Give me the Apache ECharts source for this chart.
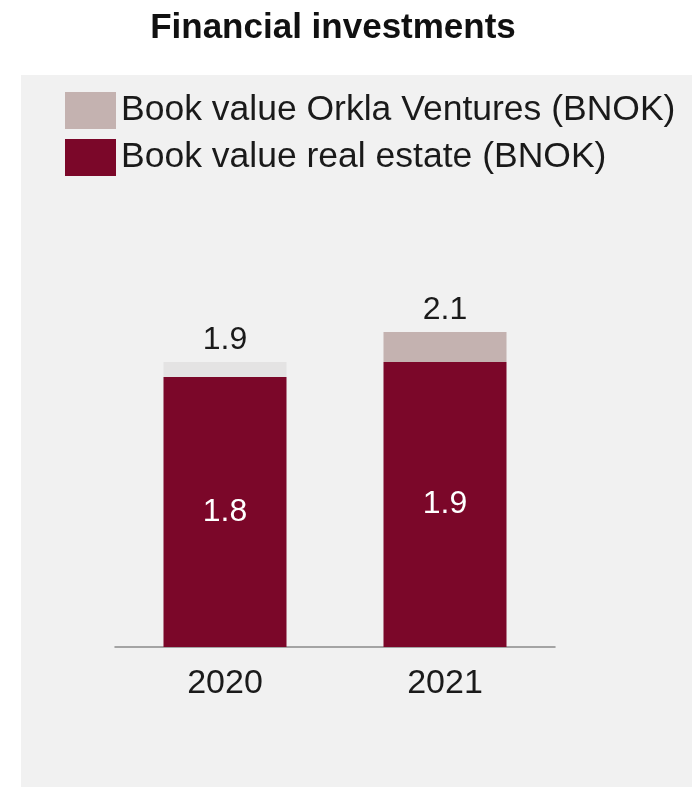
<!DOCTYPE html>
<html>
<head>
<meta charset="utf-8">
<style>
  html, body { margin: 0; padding: 0; background: #ffffff; }
  #chart { width: 692px; height: 787px; }
</style>
<script src="https://cdn.jsdelivr.net/npm/echarts@6/dist/echarts.min.js"></script>
</head>
<body>
<div id="chart"></div>
<script>
// data
const years = ['2020', '2021'];
const realEstate = [1.8, 1.9];
const ventures = [0.1, 0.2];
const totals = [1.9, 2.1];

const seriesNames = ['Book value Orkla Ventures (BNOK)', 'Book value real estate (BNOK)'];
const colRealEstate = '#7b0729';
const colVentures = '#c4b2b0';
const colVenturesFaint = '#e4e3e3';
const font = 'Liberation Sans, Arial, sans-serif';

const chart = echarts.init(document.getElementById('chart'));

const option = {
  animation: false,
  backgroundColor: '#ffffff',
  // grey panel behind the chart
  graphic: [{
    type: 'rect',
    left: 21,
    top: 75,
    z: -10,
    shape: { width: 671, height: 712 },
    style: { fill: '#f1f1f1' }
  }],
  title: {
    text: 'Financial investments',
    left: 328,
    textAlign: 'center',
    top: 6,
    textStyle: { fontFamily: font, fontSize: 35, fontWeight: 'bold', color: '#111' }
  },
  legend: {
    data: seriesNames,
    orient: 'vertical',
    left: 65,
    top: 92,
    padding: 0,
    itemWidth: 51,
    itemHeight: 37,
    itemGap: 10,
    icon: 'rect',
    textStyle: { fontFamily: font, fontSize: 35.5, color: '#1a1a1a' }
  },
  grid: { left: 115, right: 137, top: 197, bottom: 140 },
  xAxis: {
    type: 'category',
    data: years,
    axisTick: { show: false },
    axisLine: { lineStyle: { color: '#8a8a8a', width: 1.5 } },
    axisLabel: { fontFamily: font, fontSize: 34, color: '#1a1a1a', margin: 20 }
  },
  yAxis: {
    type: 'value',
    min: 0,
    max: 3,
    show: false,
    splitLine: { show: false }
  },
  series: [
    {
      name: seriesNames[1],
      type: 'bar',
      stack: 'fin',
      barWidth: 123,
      data: realEstate,
      itemStyle: { color: colRealEstate },
      label: {
        show: true,
        position: 'inside',
        fontFamily: font,
        fontSize: 32,
        color: '#ffffff'
      }
    },
    {
      name: seriesNames[0],
      type: 'bar',
      stack: 'fin',
      barWidth: 123,
      data: ventures.map((v, i) => i === 0
        ? { value: v, itemStyle: { color: colVenturesFaint } }
        : v),
      itemStyle: { color: colVentures },
      label: {
        show: true,
        position: 'top',
        distance: 6,
        fontFamily: font,
        fontSize: 32,
        color: '#1a1a1a',
        formatter: p => totals[p.dataIndex].toFixed(1)
      }
    }
  ]
};

chart.setOption(option);
</script>
</body>
</html>
